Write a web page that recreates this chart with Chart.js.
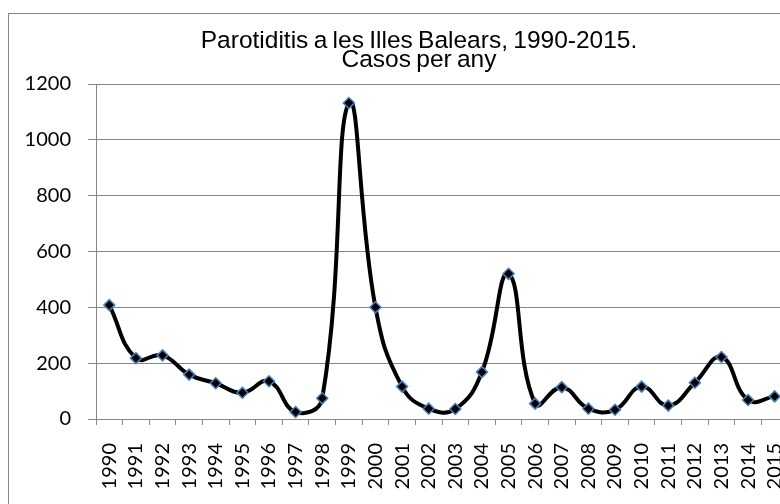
<!DOCTYPE html>
<html>
<head>
<meta charset="utf-8">
<script src="https://cdn.jsdelivr.net/npm/chart.js@4.4.1/dist/chart.umd.min.js"></script>
<style>
  html, body { margin: 0; padding: 0; background: #fff; overflow: hidden; }
  #wrap { position: relative; width: 780px; height: 504px; overflow: hidden; }
  #box { position: absolute; left: 0; top: 0; width: 830px; height: 540px; }
</style>
</head>
<body>
<div id="wrap"><div id="box"><canvas id="c" width="830" height="540"></canvas></div></div>
<script>
const years = ['1990','1991','1992','1993','1994','1995','1996','1997','1998','1999','2000','2001','2002','2003','2004','2005','2006','2007','2008','2009','2010','2011','2012','2013','2014','2015'];
const cases = [408, 218, 228, 159, 128, 94, 135, 25, 74, 1132, 400, 116, 37, 36, 168, 520, 55, 114, 37, 33, 116, 48, 130, 222, 68, 81];
const yTicks = [0, 200, 400, 600, 800, 1000, 1200];
const titleLines = ['Parotiditis a les Illes Balears, 1990-2015.', 'Casos per any'];

const frameAndTitle = {
  id: 'frameAndTitle',
  beforeDraw(chart) {
    const ctx = chart.ctx;
    ctx.save();
    ctx.fillStyle = '#ffffff';
    ctx.fillRect(0, 0, chart.width, chart.height);
    ctx.strokeStyle = '#868686';
    ctx.lineWidth = 1;
    ctx.strokeRect(8.5, 13.5, 900, 900);
    ctx.restore();
  },
  afterDraw(chart) {
    const ctx = chart.ctx;
    ctx.save();
    ctx.fillStyle = '#000000';
    ctx.font = '24.5px "Liberation Sans", Arial, sans-serif';
    ctx.textAlign = 'center';
    ctx.textBaseline = 'alphabetic';
    try { ctx.wordSpacing = '-1.5px'; } catch (e) {}
    ctx.fillText(titleLines[0], 419, 48);
    ctx.fillText(titleLines[1], 419, 67);
    ctx.restore();
  }
};

new Chart(document.getElementById('c'), {
  type: 'line',
  data: {
    labels: years,
    datasets: [{
      data: cases,
      borderColor: '#000000',
      borderWidth: 4,
      tension: 0.45,
      pointStyle: 'rectRot',
      pointRadius: 5.5,
      pointBackgroundColor: '#000000',
      pointBorderColor: '#4a7ebb',
      pointBorderWidth: 1.5,
      clip: false
    }]
  },
  options: {
    responsive: false,
    animation: false,
    devicePixelRatio: 1,
    layout: { padding: { left: 0, top: 84, right: 42, bottom: 0 } },
    plugins: { legend: { display: false }, title: { display: false }, tooltip: { enabled: false } },
    scales: {
      x: {
        type: 'category',
        offset: true,
        grid: { offset: true, drawOnChartArea: false, drawTicks: true, tickLength: 6, color: '#868686', lineWidth: 1 },
        border: { color: '#868686', width: 1 },
        ticks: {
          autoSkip: false, minRotation: 90, maxRotation: 90, padding: 18,
          color: '#000', font: { family: 'Lato, "Open Sans", sans-serif', size: 20 }
        },
        afterFit(s) { s.height = 121; }
      },
      y: {
        min: 0, max: 1200,
        afterBuildTicks(s) { s.ticks = yTicks.map(v => ({ value: v })); },
        grid: { color: '#868686', lineWidth: 1, drawTicks: true, tickLength: 8 },
        border: { color: '#868686', width: 1 },
        ticks: {
          padding: 17, color: '#000',
          font: { family: 'Lato, "Open Sans", sans-serif', size: 20 },
          callback: (v) => String(v)
        },
        afterFit(s) { s.width = 96; }
      }
    }
  },
  plugins: [frameAndTitle]
});
</script>
</body>
</html>
